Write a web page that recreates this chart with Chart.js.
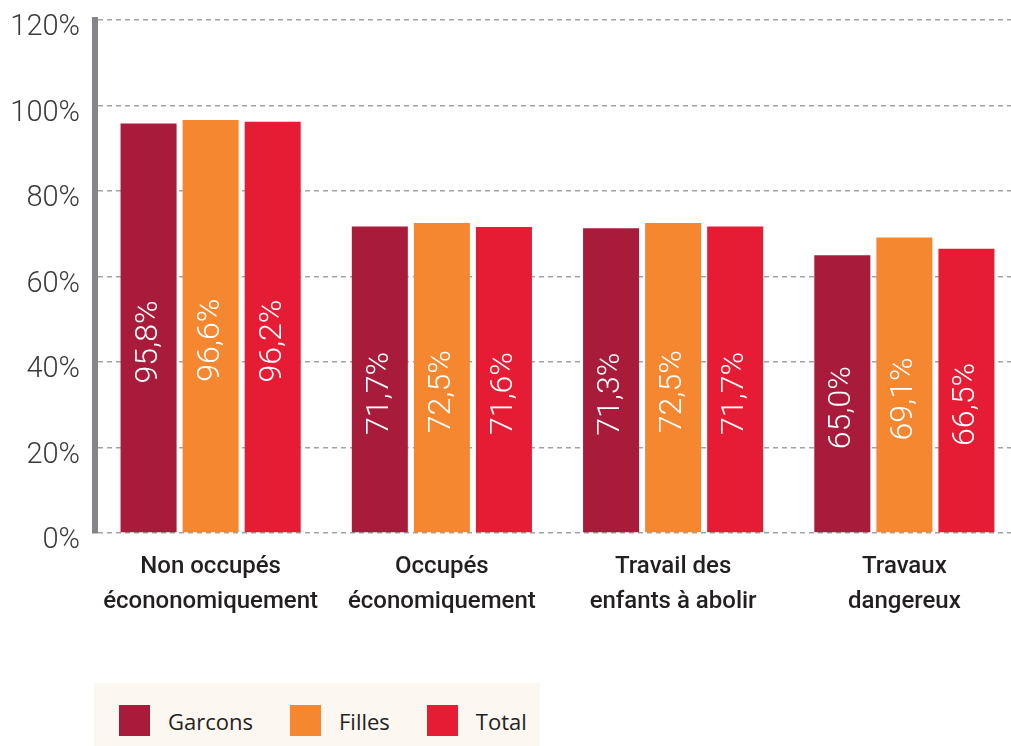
<!DOCTYPE html>
<html lang="fr">
<head>
<meta charset="utf-8">
<title>Enfants par statut d'occupation</title>
<script src="https://cdn.jsdelivr.net/npm/chart.js@4.4.1/dist/chart.umd.min.js"></script>
<style>
    html, body { margin: 0; padding: 0; background: #fff; overflow: hidden; }
    .zone { position: absolute; left: 0; top: 0; width: 1020px; height: 660px; }
    .legende {
        position: absolute; left: 94px; top: 683px; width: 446px; height: 63px;
        background: #fcf7f0; box-sizing: border-box; padding: 22px 0 0 25px;
        display: flex; align-items: flex-start;
        font-family: "Open Sans", sans-serif; font-size: 22px; color: #231f20;
    }
    .legende .item { display: flex; align-items: center; margin-right: 37px; height: 31px; }
    .legende .carre { width: 31px; height: 31px; margin-right: 18px; }
</style>
</head>
<body>
<div class="zone"><canvas id="myChart"></canvas></div>
<div class="legende" id="legende"></div>

<script>
var categories = [
    ["Non occupés", "écononomiquement"],
    ["Occupés", "économiquement"],
    ["Travail des", "enfants à abolir"],
    ["Travaux", "dangereux"]
];
var garcons = [95.8, 71.7, 71.3, 65.0];
var filles = [96.6, 72.5, 72.5, 69.1];
var total = [96.2, 71.6, 71.7, 66.5];
var yMax = 120;
var yStep = 20;

function pourcent(v) {
    return v.toFixed(1).replace(".", ",") + "%";
}

// valeurs écrites à la verticale, en blanc, dans chaque barre
var etiquettesBarres = {
    id: "etiquettesBarres",
    afterDatasetsDraw: function (chart) {
        var ctx = chart.ctx;
        ctx.save();
        ctx.fillStyle = "#ffffff";
        ctx.font = "300 32px Roboto";
        ctx.textAlign = "center";
        ctx.textBaseline = "middle";
        chart.data.datasets.forEach(function (ds, i) {
            chart.getDatasetMeta(i).data.forEach(function (bar, j) {
                var y = (bar.y + bar.base) / 2 + 14;
                ctx.save();
                ctx.translate(bar.x, y);
                ctx.rotate(-Math.PI / 2);
                ctx.fillText(pourcent(ds.data[j]), 0, 0);
                ctx.restore();
            });
        });
        ctx.restore();
    }
};

document.addEventListener("DOMContentLoaded", iniciar);

function iniciar() {
    var canvas = document.getElementById("myChart");
    if (!canvas) return;
    var chart = crearGrafico(canvas);
    crearLegende(chart);
}

function crearGrafico(canvas) {
    var chart = new Chart(canvas, {
        type: "bar",
        data: {
            labels: categories,
            datasets: [
                { label: "Garcons", data: garcons, backgroundColor: "#a91b3b" },
                { label: "Filles", data: filles, backgroundColor: "#f48730" },
                { label: "Total", data: total, backgroundColor: "#e51c34" }
            ]
        },
        options: {
            responsive: true,
            maintainAspectRatio: false,
            animation: false,
            layout: { padding: { top: 20, right: 0, left: 0, bottom: 0 } },
            datasets: {
                bar: { categoryPercentage: 0.805, barPercentage: 0.903, borderWidth: 0 }
            },
            plugins: {
                legend: { display: false },
                tooltip: { enabled: false }
            },
            scales: {
                x: {
                    grid: { display: false },
                    border: { display: false },
                    ticks: {
                        color: "#231f20",
                        padding: 8,
                        font: { family: "Roboto", size: 24, weight: "500", lineHeight: 1.46 }
                    },
                    afterFit: function (scale) { scale.height = 127; }
                },
                y: {
                    min: 0,
                    max: yMax,
                    grid: { color: "#a3a3a3", lineWidth: 1.5, drawTicks: false },
                    border: { display: true, color: "#858589", width: 6, dash: [5, 4] },
                    ticks: {
                        stepSize: yStep,
                        padding: 15,
                        labelOffset: 8,
                        color: "#3a3a3a",
                        font: { family: "Roboto", size: 29, weight: "300" },
                        callback: function (v) { return v + "%"; }
                    },
                    afterFit: function (scale) {
                        scale.width = 95;
                        scale.paddingTop = 0;
                        scale.paddingBottom = 0;
                    }
                }
            }
        },
        plugins: [etiquettesBarres]
    });

    return chart;
}

function crearLegende(chart) {
    var box = document.getElementById("legende");
    chart.data.datasets.forEach(function (ds) {
        var item = document.createElement("div");
        item.className = "item";
        var carre = document.createElement("span");
        carre.className = "carre";
        carre.style.background = ds.backgroundColor;
        var txt = document.createElement("span");
        txt.textContent = ds.label;
        item.appendChild(carre);
        item.appendChild(txt);
        box.appendChild(item);
    });
}
</script>
</body>
</html>
